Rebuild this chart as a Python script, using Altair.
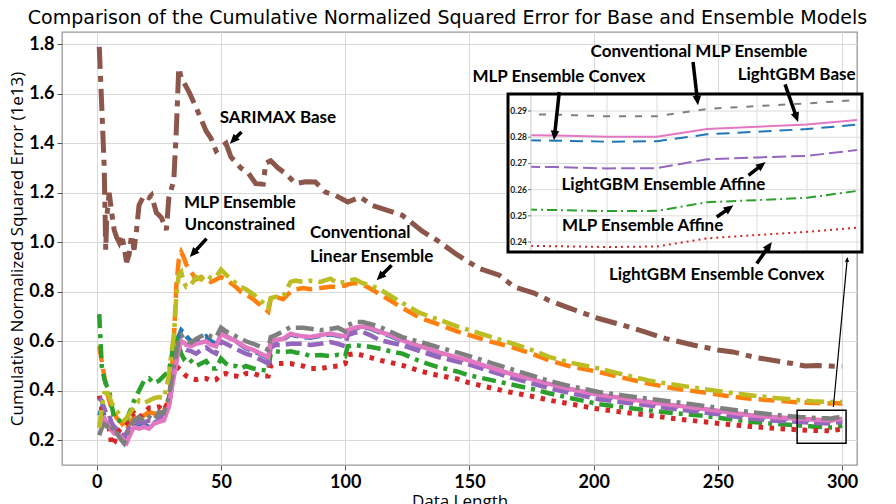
import math
import altair as alt
import pandas as pd

# ---------------- data ----------------
X = [1, 2, 3, 4, 5, 6, 7, 8, 9, 10,
     11, 12, 13, 14, 15, 17, 19, 21, 23, 25,
     27, 29, 30, 31, 32, 33, 34, 35, 36, 38,
     40, 42, 44, 46, 48, 50, 52, 54, 56, 58,
     60, 63, 66, 69, 70, 72, 75, 78, 80, 83,
     86, 90, 94, 97, 100, 101, 104, 107, 110, 114,
     118, 123, 130, 137, 145, 150, 158, 166, 175, 182,
     190, 202, 212, 222, 232, 243, 253, 263, 273, 283,
     288, 293, 294, 295, 296, 297, 298, 299, 300]

BLUE = [0.30, 0.33, 0.30, 0.28, 0.26, 0.25, 0.235, 0.23, 0.225, 0.215,
        0.205, 0.20, 0.22, 0.24, 0.26, 0.255, 0.26, 0.255, 0.27, 0.28,
        0.285, 0.34, 0.41, 0.47, 0.55, 0.62, 0.645, 0.635, 0.62, 0.60,
        0.60, 0.61, 0.62, 0.60, 0.59, 0.635, 0.62, 0.61, 0.60, 0.585,
        0.572, 0.56, 0.547, 0.532, 0.597, 0.602, 0.607, 0.628, 0.622, 0.617,
        0.614, 0.622, 0.628, 0.622, 0.617, 0.642, 0.652, 0.657, 0.652, 0.635,
        0.622, 0.601, 0.577, 0.554, 0.532, 0.519, 0.492, 0.467, 0.444, 0.425,
        0.405, 0.381, 0.367, 0.352, 0.339, 0.325, 0.312, 0.298, 0.29, 0.284,
        0.281, 0.2789, 0.2787, 0.2783, 0.2785, 0.2811, 0.2821, 0.2831, 0.2848]

ORANGE = [0.58, 0.52, 0.46, 0.40, 0.36, 0.33, 0.31, 0.29, 0.28, 0.27,
          0.255, 0.24, 0.265, 0.28, 0.295, 0.308, 0.30, 0.314, 0.308, 0.31,
          0.32, 0.36, 0.45, 0.60, 0.82, 0.93, 0.96, 0.94, 0.91, 0.88,
          0.85, 0.86, 0.85, 0.84, 0.85, 0.86, 0.85, 0.835, 0.82, 0.80,
          0.79, 0.77, 0.745, 0.72, 0.77, 0.78, 0.77, 0.80, 0.81, 0.815,
          0.81, 0.815, 0.82, 0.82, 0.825, 0.83, 0.835, 0.83, 0.813, 0.79,
          0.765, 0.735, 0.695, 0.67, 0.64, 0.625, 0.60, 0.58, 0.55, 0.523,
          0.50, 0.476, 0.452, 0.429, 0.41, 0.395, 0.38, 0.368, 0.36, 0.353,
          0.351, 0.350, 0.350, 0.349, 0.349, 0.350, 0.350, 0.349, 0.349]

GREEN = [0.71, 0.50, 0.45, 0.42, 0.40, 0.34, 0.29, 0.28, 0.28, 0.27,
         0.27, 0.28, 0.31, 0.33, 0.36, 0.40, 0.44, 0.45, 0.43, 0.44,
         0.46, 0.48, 0.53, 0.60, 0.61, 0.58, 0.55, 0.53, 0.54, 0.52,
         0.50, 0.51, 0.52, 0.49, 0.49, 0.53, 0.51, 0.50, 0.50, 0.49,
         0.50, 0.49, 0.485, 0.48, 0.55, 0.56, 0.555, 0.56, 0.555, 0.55,
         0.54, 0.545, 0.54, 0.545, 0.54, 0.58, 0.585, 0.58, 0.578, 0.57,
         0.56, 0.55, 0.52, 0.497, 0.478, 0.462, 0.445, 0.427, 0.408, 0.39,
         0.372, 0.346, 0.333, 0.321, 0.31, 0.30, 0.287, 0.275, 0.266, 0.26,
         0.256, 0.2525, 0.2522, 0.2518, 0.2519, 0.2552, 0.2560, 0.2569, 0.2595]

RED = [0.38, 0.33, 0.28, 0.27, 0.25, 0.18, 0.19, 0.22, 0.24, 0.25,
       0.26, 0.27, 0.29, 0.30, 0.31, 0.29, 0.31, 0.33, 0.33, 0.335,
       0.32, 0.36, 0.42, 0.48, 0.50, 0.49, 0.48, 0.47, 0.46, 0.45,
       0.445, 0.45, 0.45, 0.44, 0.445, 0.465, 0.47, 0.46, 0.46, 0.455,
       0.47, 0.47, 0.46, 0.46, 0.50, 0.51, 0.51, 0.51, 0.505, 0.50,
       0.49, 0.49, 0.497, 0.50, 0.51, 0.545, 0.55, 0.543, 0.535, 0.523,
       0.515, 0.503, 0.48, 0.463, 0.448, 0.432, 0.413, 0.395, 0.378, 0.362,
       0.348, 0.326, 0.313, 0.301, 0.288, 0.276, 0.265, 0.256, 0.248, 0.242,
       0.240, 0.2386, 0.2384, 0.2381, 0.2383, 0.2414, 0.2427, 0.2439, 0.2455]

PURPLE = [0.37, 0.36, 0.33, 0.30, 0.30, 0.27, 0.255, 0.245, 0.235, 0.225,
          0.215, 0.23, 0.25, 0.26, 0.265, 0.275, 0.27, 0.28, 0.28, 0.29,
          0.30, 0.34, 0.40, 0.48, 0.55, 0.58, 0.575, 0.57, 0.565, 0.56,
          0.55, 0.565, 0.575, 0.56, 0.55, 0.60, 0.59, 0.58, 0.57, 0.56,
          0.55, 0.54, 0.525, 0.51, 0.575, 0.585, 0.585, 0.59, 0.59, 0.59,
          0.585, 0.59, 0.597, 0.59, 0.58, 0.625, 0.635, 0.638, 0.625, 0.604,
          0.595, 0.584, 0.56, 0.537, 0.518, 0.506, 0.48, 0.455, 0.43, 0.41,
          0.392, 0.366, 0.353, 0.341, 0.327, 0.314, 0.301, 0.288, 0.279, 0.274,
          0.271, 0.2688, 0.2686, 0.2681, 0.2682, 0.2716, 0.2723, 0.2729, 0.2751]

PINK = [0.27, 0.28, 0.29, 0.27, 0.254, 0.24, 0.227, 0.225, 0.22, 0.21,
        0.20, 0.19, 0.213, 0.235, 0.254, 0.247, 0.254, 0.247, 0.267, 0.274,
        0.28, 0.335, 0.40, 0.456, 0.51, 0.57, 0.60, 0.595, 0.585, 0.58,
        0.59, 0.595, 0.60, 0.585, 0.58, 0.63, 0.62, 0.61, 0.60, 0.588,
        0.575, 0.565, 0.55, 0.535, 0.60, 0.605, 0.61, 0.631, 0.625, 0.62,
        0.617, 0.625, 0.631, 0.625, 0.62, 0.645, 0.655, 0.66, 0.655, 0.638,
        0.625, 0.604, 0.58, 0.557, 0.535, 0.522, 0.495, 0.47, 0.447, 0.428,
        0.408, 0.384, 0.37, 0.355, 0.342, 0.328, 0.315, 0.301, 0.293, 0.287,
        0.284, 0.2809, 0.2807, 0.2802, 0.2802, 0.2831, 0.2840, 0.2849, 0.2866]

GRAY = [0.22, 0.25, 0.265, 0.26, 0.235, 0.245, 0.255, 0.23, 0.213, 0.20,
        0.187, 0.21, 0.25, 0.265, 0.28, 0.294, 0.275, 0.294, 0.28, 0.314,
        0.31, 0.375, 0.44, 0.50, 0.55, 0.61, 0.625, 0.61, 0.60, 0.595,
        0.61, 0.62, 0.63, 0.62, 0.615, 0.655, 0.64, 0.63, 0.62, 0.61,
        0.60, 0.59, 0.578, 0.565, 0.617, 0.625, 0.64, 0.658, 0.655, 0.655,
        0.651, 0.645, 0.65, 0.655, 0.64, 0.665, 0.678, 0.678, 0.67, 0.658,
        0.64, 0.617, 0.598, 0.577, 0.555, 0.54, 0.515, 0.49, 0.462, 0.44,
        0.42, 0.395, 0.381, 0.368, 0.355, 0.341, 0.327, 0.314, 0.303, 0.294,
        0.291, 0.2889, 0.2886, 0.2880, 0.2880, 0.2908, 0.2919, 0.2929, 0.2942]

OLIVE = [0.25, 0.33, 0.39, 0.39, 0.38, 0.35, 0.335, 0.32, 0.305, 0.29,
         0.28, 0.29, 0.305, 0.32, 0.335, 0.36, 0.35, 0.36, 0.37, 0.375,
         0.37, 0.46, 0.55, 0.62, 0.78, 0.87, 0.88, 0.84, 0.82, 0.83,
         0.86, 0.85, 0.87, 0.855, 0.86, 0.89, 0.87, 0.85, 0.835, 0.82,
         0.81, 0.79, 0.765, 0.735, 0.775, 0.78, 0.78, 0.84, 0.845, 0.84,
         0.845, 0.84, 0.853, 0.835, 0.84, 0.845, 0.85, 0.835, 0.826, 0.81,
         0.785, 0.755, 0.715, 0.69, 0.66, 0.645, 0.62, 0.595, 0.565, 0.537,
         0.515, 0.49, 0.465, 0.442, 0.425, 0.409, 0.395, 0.382, 0.371, 0.362,
         0.358, 0.356, 0.356, 0.355, 0.355, 0.356, 0.356, 0.355, 0.355]

X_SARIMAX = [1, 2, 3, 3.6, 4, 5, 6, 7, 8, 9, 10, 11, 12, 13, 14, 15, 16, 17, 19, 21,
             22, 24, 26, 28, 29, 31, 32, 33, 34, 37, 40, 44, 46, 48, 50, 52, 54, 58, 61, 64,
             67, 68, 70, 73, 76, 80, 84, 88, 92, 96, 101, 106, 111, 117, 123, 131, 137, 145,
             154, 162, 168, 176, 182, 190, 202, 210, 220, 229, 240, 250, 256, 265, 275, 280,
             285, 290, 295, 300]
SARIMAX = [1.79, 1.55, 1.30, 0.97, 1.10, 1.20, 1.12, 1.05, 1.02, 1.00, 1.03, 0.98, 0.92, 0.95,
           1.03, 0.97, 1.05, 1.15, 1.19, 1.18, 1.19, 1.12, 1.10, 1.05, 1.18, 1.25, 1.45, 1.705,
           1.665, 1.61, 1.545, 1.45, 1.42, 1.37, 1.385, 1.40, 1.345, 1.30, 1.28, 1.237, 1.235,
           1.32, 1.33, 1.30, 1.278, 1.237, 1.245, 1.244, 1.203, 1.19, 1.163, 1.183, 1.149,
           1.129, 1.109, 1.045, 1.008, 0.95, 0.894, 0.867, 0.82, 0.795, 0.765, 0.735, 0.692,
           0.67, 0.64, 0.611, 0.585, 0.565, 0.557, 0.535, 0.518, 0.51, 0.50, 0.502, 0.50, 0.499]

X_TICKS = [0, 50, 100, 150, 200, 250, 300]
Y_TICKS = [0.2, 0.4, 0.6, 0.8, 1.0, 1.2, 1.4, 1.6, 1.8]
INSET_X_TICKS = [294, 295, 296, 297, 298, 299, 300]
INSET_Y_TICKS = [0.24, 0.25, 0.26, 0.27, 0.28, 0.29]

# annotation labels: text, x, y (data units), align
LABELS = [
    ("SARIMAX Base", 72.9, 1.501, "center"),
    ("MLP Ensemble", 57.6, 1.158, "center"),
    ("Unconstrained", 57.6, 1.069, "center"),
    ("Conventional", 85.8, 1.036, "left"),
    ("Linear Ensemble", 85.8, 0.939, "left"),
    ("MLP Ensemble Convex", 186.0, 1.667, "center"),
    ("Conventional MLP Ensemble", 242.4, 1.768, "center"),
    ("LightGBM Base", 281.7, 1.675, "center"),
    ("LightGBM Ensemble Affine", 228.1, 1.230, "center"),
    ("MLP Ensemble Affine", 219.7, 1.065, "center"),
    ("LightGBM Ensemble Convex", 249.5, 0.867, "center"),
]
# arrows: tail x, tail y, tip x, tip y, thin?
ARROWS = [
    (58.27, 1.4457, 53.56, 1.3988, False),
    (44.17, 1.0149, 37.45, 0.9406, False),
    (118.67, 0.9071, 112.63, 0.8465, False),
    (186.16, 1.6073, 184.03, 1.4121, False),
    (240.0, 1.7285, 242.0, 1.5535, False),
    (277.05, 1.6384, 282.28, 1.4861, False),
    (262.35, 1.2707, 269.2, 1.3244, False),
    (249.55, 1.1022, 256.23, 1.1495, False),
    (265.65, 0.9139, 271.69, 1.0012, False),
    (296.5, 0.3345, 302.14, 0.9406, True),
]
ZOOM_BOX = (281.9, 301.6, 0.188, 0.321)

# ---------------- layout ----------------
W, H = 795, 433
XDOM = [-14, 306]
YDOM = [0.1, 1.85]
PXX = W / (XDOM[1] - XDOM[0])
PXY = H / (YDOM[1] - YDOM[0])

XI_DOM = [293.48, 300.1]
YI_DOM = [0.2362, 0.2965]
XI_RANGE = [469, 800]
YI_RANGE = [220, 62]
INSET_LEFT = 293.02

AX_X = alt.Axis(title="Data Length", values=X_TICKS, format="d")
AX_Y = alt.Axis(title="Cumulative Normalized Squared Error (1e13)", values=Y_TICKS, format=".1f")
XS = alt.Scale(domain=XDOM, nice=False, zero=False)
YS = alt.Scale(domain=YDOM, nice=False, zero=False)
XI = alt.Scale(domain=XI_DOM, range=XI_RANGE, nice=False, zero=False)
YI = alt.Scale(domain=YI_DOM, range=YI_RANGE, nice=False, zero=False)


def main_xy():
    return dict(x=alt.X("x:Q", scale=XS, axis=AX_X), y=alt.Y("y:Q", scale=YS, axis=AX_Y))


def annot_xy(xf="x", yf="y"):
    return dict(x=alt.X(f"{xf}:Q", scale=XS, axis=None), y=alt.Y(f"{yf}:Q", scale=YS, axis=None))


def inset_xy(xf="x", yf="y"):
    return dict(x=alt.X(f"{xf}:Q", scale=XI, axis=None), y=alt.Y(f"{yf}:Q", scale=YI, axis=None))


# name, xs, ys, color, main dash, main width, inset dash
SERIES = [
    ("blue", X, BLUE, "#1f77b4", [16, 6], 4.5, [13, 8]),
    ("orange", X, ORANGE, "#ff7f0e", [16, 7], 4.5, None),
    ("green", X, GREEN, "#2ca02c", [14, 6, 4, 6], 4.5, [10, 4, 2, 4]),
    ("red", X, RED, "#d62728", [4.5, 6.5], 5, [2, 4]),
    ("purple", X, PURPLE, "#9467bd", [16, 6], 4.5, [14, 5]),
    ("brown", X_SARIMAX, SARIMAX, "#8c564b", [22, 7, 6, 7], 5, None),
    ("pink", X, PINK, "#e377c2", [], 4.5, []),
    ("gray", X, GRAY, "#7f7f7f", [18, 6, 4, 6], 4.5, [7, 9]),
    ("olive", X, OLIVE, "#bcbd22", [18, 6, 4, 6], 4.5, None),
]

main_layers = []
inset_lines = []
for name, xs, ys, color, dash, width, idash in SERIES:
    df = pd.DataFrame({"x": xs, "y": ys})
    kw = dict(color=color, strokeWidth=width, strokeCap="butt")
    if dash:
        kw["strokeDash"] = dash
    main_layers.append(alt.Chart(df).mark_line(**kw).encode(**main_xy()))
    if idash is not None:
        dfi = df[df["x"] >= 293]
        ikw = dict(color=color, strokeWidth=2, strokeCap="butt")
        if idash:
            ikw["strokeDash"] = idash
        inset_lines.append(alt.Chart(dfi).mark_line(**ikw).encode(**inset_xy()))

# zoom rectangle in main chart
zb = pd.DataFrame({"x": [ZOOM_BOX[0]], "x2": [ZOOM_BOX[1]], "y": [ZOOM_BOX[2]], "y2": [ZOOM_BOX[3]]})
main_layers.append(
    alt.Chart(zb).mark_rect(fill=None, stroke="black", strokeWidth=1.5, filled=False).encode(
        x=alt.X("x:Q", scale=XS, axis=AX_X), x2="x2:Q",
        y=alt.Y("y:Q", scale=YS, axis=AX_Y), y2="y2:Q")
)

# ---------------- inset ----------------
box = pd.DataFrame({"x": [INSET_LEFT], "x2": [XI_DOM[1]], "y": [YI_DOM[0]], "y2": [YI_DOM[1]]})
mask = pd.DataFrame({"x": [INSET_LEFT - 0.05], "x2": [XI_DOM[0] - 0.01], "y": [YI_DOM[0]], "y2": [YI_DOM[1]]})
vgrid = pd.DataFrame({"x": INSET_X_TICKS, "y": YI_DOM[0], "y2": YI_DOM[1]})
hgrid = pd.DataFrame({"y": INSET_Y_TICKS, "x": XI_DOM[0], "x2": XI_DOM[1]})
spine = pd.DataFrame({"x": [XI_DOM[0]], "y": [YI_DOM[0]], "y2": [YI_DOM[1]]})
ilabels = pd.DataFrame({"y": INSET_Y_TICKS, "x": XI_DOM[0] - 0.08,
                        "t": [f"{v:.2f}" for v in INSET_Y_TICKS]})
iticks = pd.DataFrame({"y": INSET_Y_TICKS, "x": XI_DOM[0] - 0.06, "x2": XI_DOM[0]})

ixy = inset_xy()
inset_layers = [
    alt.Chart(box).mark_rect(fill="white").encode(x=ixy["x"], x2="x2:Q", y=ixy["y"], y2="y2:Q"),
    alt.Chart(vgrid).mark_rule(color="#dcdcdc", strokeWidth=1).encode(x=ixy["x"], y=ixy["y"], y2="y2:Q"),
    alt.Chart(hgrid).mark_rule(color="#dcdcdc", strokeWidth=1).encode(x=ixy["x"], x2="x2:Q", y=ixy["y"]),
] + inset_lines + [
    alt.Chart(mask).mark_rect(fill="white").encode(x=ixy["x"], x2="x2:Q", y=ixy["y"], y2="y2:Q"),
    alt.Chart(spine).mark_rule(color="#c8c8c8", strokeWidth=1).encode(x=ixy["x"], y=ixy["y"], y2="y2:Q"),
    alt.Chart(iticks).mark_rule(color="#555", strokeWidth=0.8).encode(x=ixy["x"], x2="x2:Q", y=ixy["y"]),
    alt.Chart(ilabels).mark_text(align="right", baseline="middle", font="Lato", fontSize=8.5,
                                 fontWeight="bold", color="#222").encode(x=ixy["x"], y=ixy["y"], text="t:N"),
    alt.Chart(box).mark_rect(fill=None, filled=False, stroke="black", strokeWidth=3).encode(
        x=ixy["x"], x2="x2:Q", y=ixy["y"], y2="y2:Q"),
]

# ---------------- annotations ----------------
rows_line, rows_head = [], []
for tx, ty, hx, hy, thin in ARROWS:
    dxp = (hx - tx) * PXX
    dyp = -(hy - ty) * PXY
    L = math.hypot(dxp, dyp)
    ux, uy = dxp / L, dyp / L
    ang = math.degrees(math.atan2(ux, -uy)) % 360
    size = 60 if thin else 240
    head_len = math.sqrt(size) / 2 * 1.25
    back = head_len * 0.7
    ex = hx - back * ux / PXX
    ey = hy + back * uy / PXY
    rows_line.append({"x": tx, "y": ty, "x2": ex, "y2": ey, "w": 1.2 if thin else 3.5})
    rows_head.append({"x": hx, "y": hy, "ang": ang, "s": size})

lines_df = pd.DataFrame(rows_line)
heads_df = pd.DataFrame(rows_head)
labels_df = pd.DataFrame(LABELS, columns=["t", "x", "y", "a"])

axy = annot_xy()
annot_layers = [
    alt.Chart(lines_df).mark_rule(color="black", strokeCap="butt").encode(
        x=axy["x"], y=axy["y"], x2="x2:Q", y2="y2:Q",
        strokeWidth=alt.StrokeWidth("w:Q", scale=None, legend=None)),
    alt.Chart(heads_df).mark_point(shape="M0,0 L-0.55,1.25 L0.55,1.25 Z", filled=True,
                                   color="black", opacity=1, strokeWidth=0).encode(
        x=axy["x"], y=axy["y"],
        angle=alt.Angle("ang:Q", scale=None),
        size=alt.Size("s:Q", scale=None, legend=None)),
]
for align in ["center", "left"]:
    sub = labels_df[labels_df["a"] == align]
    annot_layers.append(
        alt.Chart(sub).mark_text(align=align, baseline="middle", font="Lato", fontSize=17,
                                 fontWeight="bold", color="black").encode(
            x=axy["x"], y=axy["y"], text="t:N"))

main = alt.layer(*main_layers)
inset = alt.layer(*inset_layers)
annot = alt.layer(*annot_layers)

chart = alt.layer(main, inset, annot).resolve_scale(
    x="independent", y="independent"
).properties(
    width=W, height=H,
    title=alt.TitleParams(
        "Comparison of the Cumulative Normalized Squared Error for Base and Ensemble Models",
        font="DejaVu Sans", fontSize=19, fontWeight="normal", color="black",
        anchor="middle", offset=4, dx=-12),
    padding={"left": 54, "top": 24, "right": 30, "bottom": 40},
    autosize=alt.AutoSizeParams(type="none"),
).configure_view(
    stroke="#999999", strokeWidth=1.3
).configure_axis(
    grid=True, gridColor="#d9d9d9", gridWidth=1, domain=False,
    tickColor="#555", tickSize=5, tickWidth=1,
    labelFont="Lato", labelFontWeight="bold", labelFontSize=18, labelColor="black",
    titleFont="Open Sans", titleFontWeight="normal", titleColor="black",
    labelPadding=3,
).configure_axisY(titlePadding=2, titleFontSize=17).configure_axisX(titlePadding=2, titleFontSize=17)

chart.save("out.html", embed_options={"renderer": "svg", "actions": False})
